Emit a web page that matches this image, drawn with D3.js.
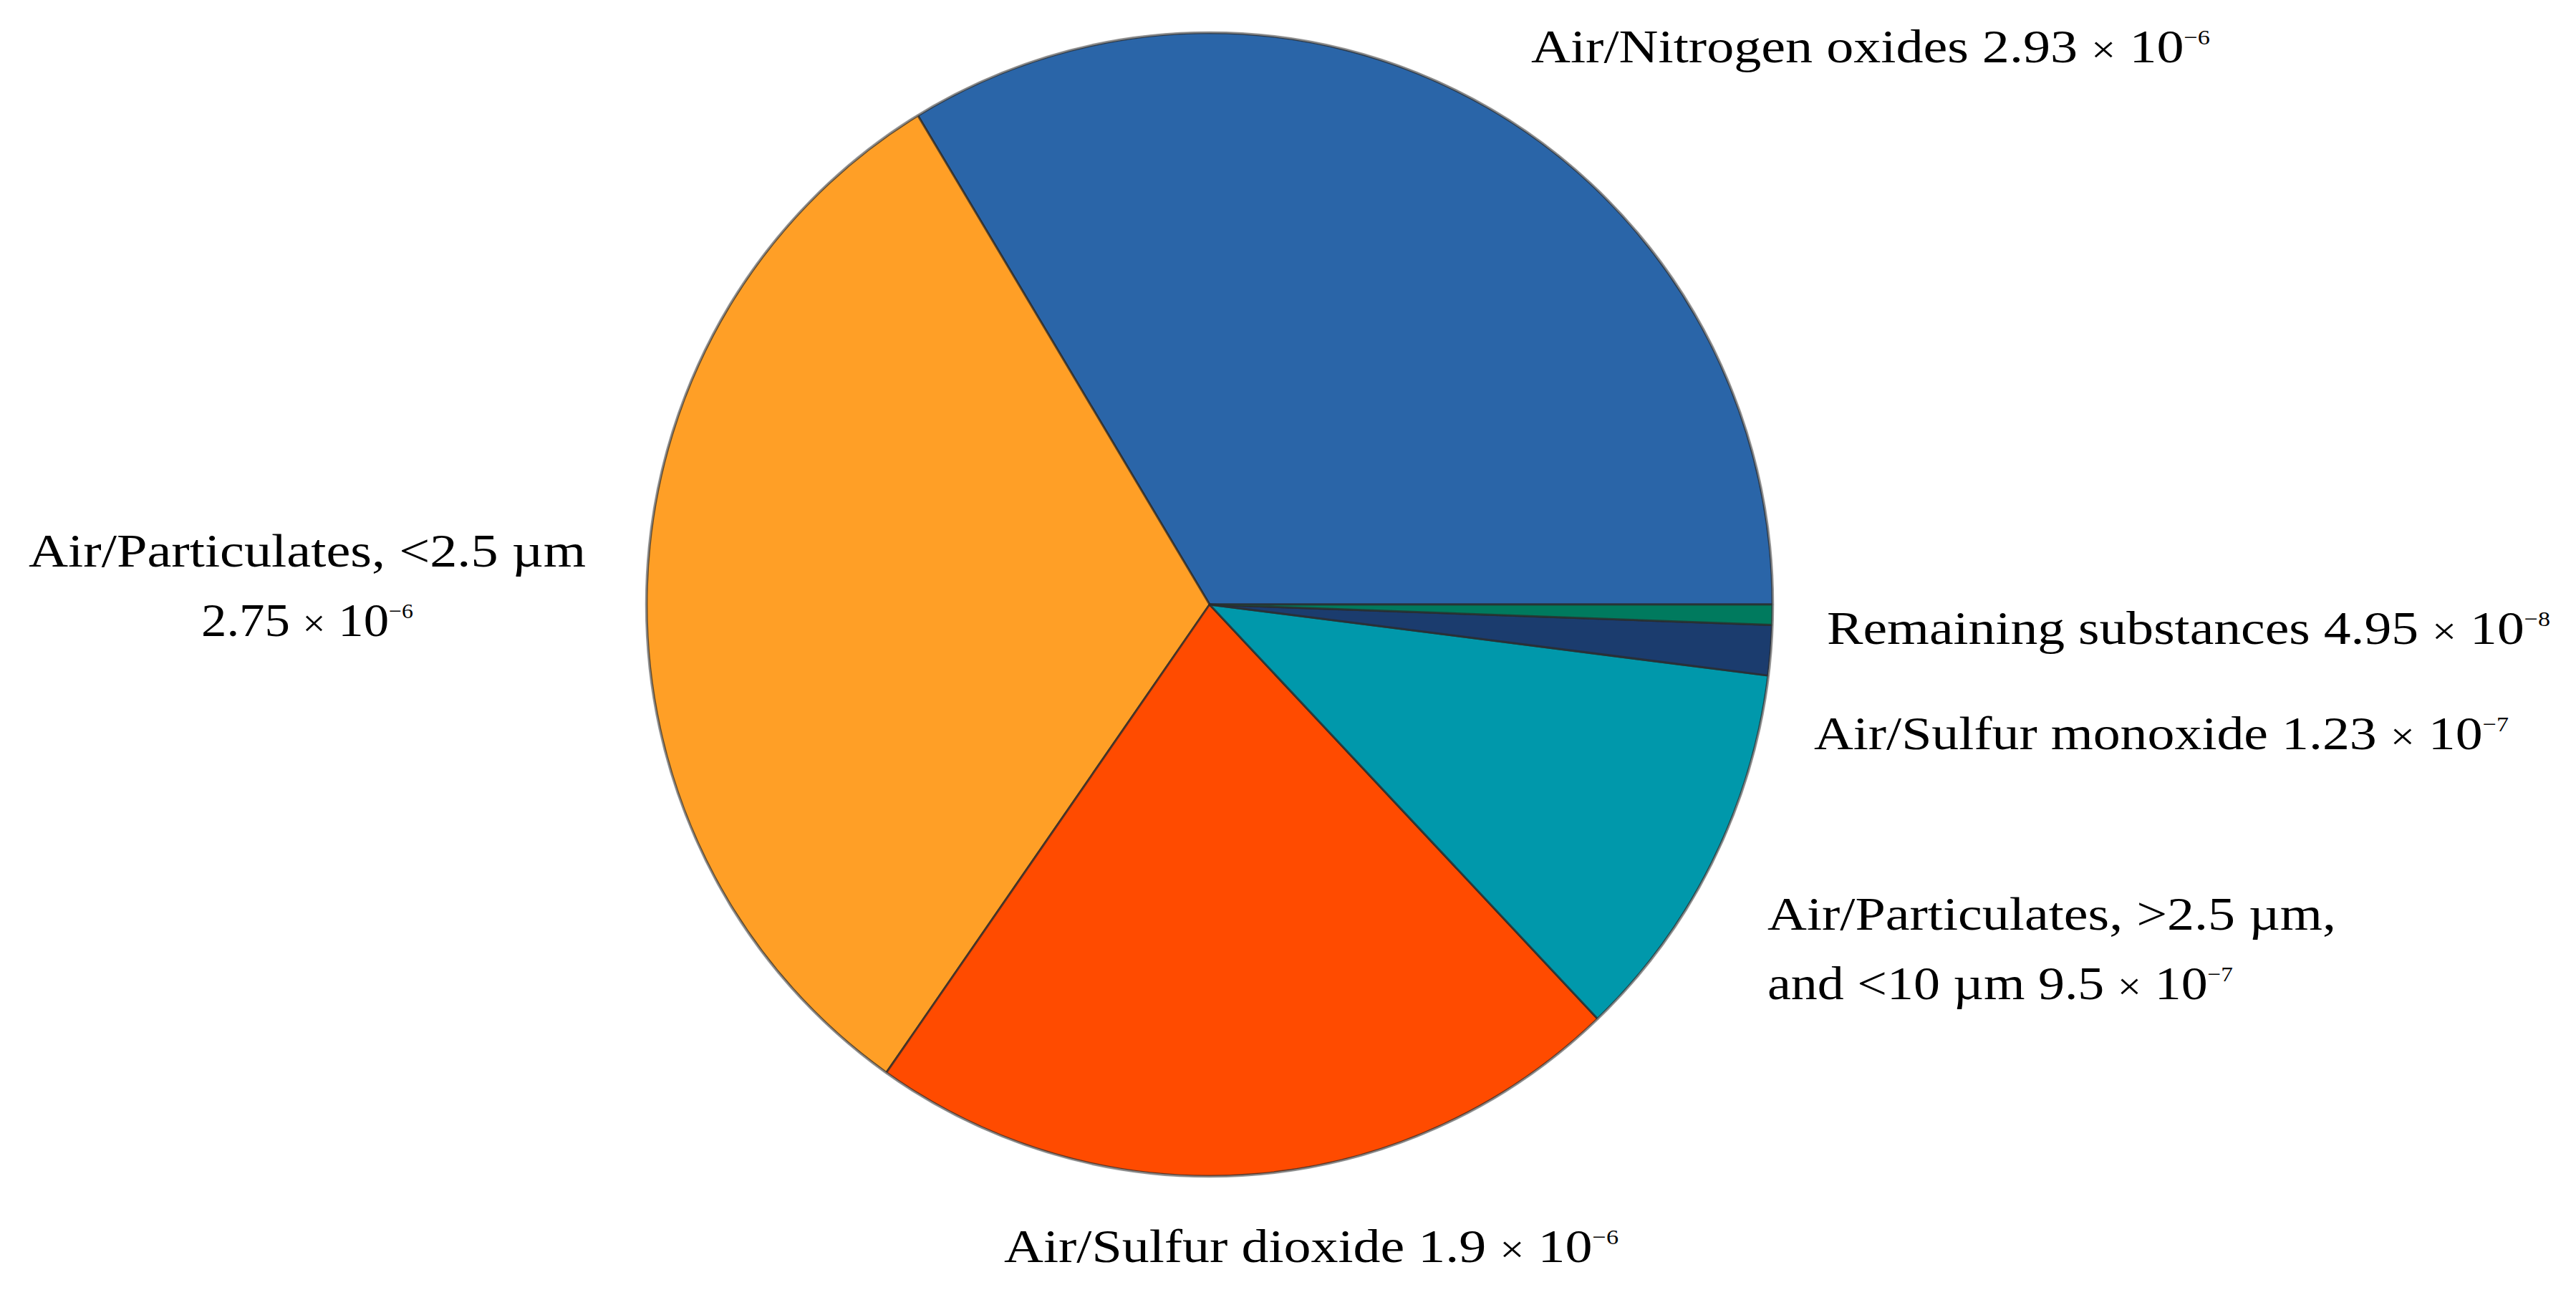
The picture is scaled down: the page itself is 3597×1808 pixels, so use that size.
<!DOCTYPE html>
<html>
<head>
<meta charset="utf-8">
<script src="https://cdn.jsdelivr.net/npm/d3@7"></script>
<style>
  html, body { margin: 0; padding: 0; background: #ffffff; }
  svg { display: block; }
</style>
</head>
<body>
<svg id="chart" width="3597" height="1808"></svg>
<script>
// ---- data ----
const categories = [
  "Air/Nitrogen oxides",
  "Air/Particulates, <2.5 µm",
  "Air/Sulfur dioxide",
  "Air/Particulates, >2.5 µm, and <10 µm",
  "Air/Sulfur monoxide",
  "Remaining substances"
];
const values = [2.93e-6, 2.75e-6, 1.9e-6, 9.5e-7, 1.23e-7, 4.95e-8];
const mantissas = ["2.93", "2.75", "1.9", "9.5", "1.23", "4.95"];
const exponents = ["-6", "-6", "-6", "-7", "-7", "-8"];
// label line text (the "× 10^exp" part is appended to the last line)
const labelLines = [
  ["Air/Nitrogen oxides "],
  ["Air/Particulates, <2.5 µm", ""],
  ["Air/Sulfur dioxide "],
  ["Air/Particulates, >2.5 µm,", "and <10 µm "],
  ["Air/Sulfur monoxide "],
  ["Remaining substances "]
];
const colors = ["#2a65a8", "#ff9f26", "#ff4b00", "#0098ab", "#1b3c6e", "#007a5e"];

// ---- layout (not data) ----
const W = 3597, H = 1808;
const cx = 1689, cy = 844, radius = 798, xSquash = 0.985;
const fontSize = 66, lineGap = 97;
const labelLayout = [
  { anchor: "start",  x: 2138, y: 87,   widths: [948] },
  { anchor: "middle", x: 429,  y: 791,  widths: [778, 296] },
  { anchor: "start",  x: 1402, y: 1762, widths: [858] },
  { anchor: "start",  x: 2468, y: 1298, widths: [794, 650] },
  { anchor: "start",  x: 2533, y: 1046, widths: [970] },
  { anchor: "start",  x: 2551, y: 899,  widths: [1010] }
];

const svg = d3.select("#chart");

const pie = d3.pie()
  .sort(null)
  .value(d => d)
  .startAngle(Math.PI / 2)
  .endAngle(Math.PI / 2 - 2 * Math.PI);

const arc = d3.arc().innerRadius(0).outerRadius(radius);

const g = svg.append("g")
  .attr("transform", `translate(${cx},${cy}) scale(${xSquash},1)`);

g.selectAll("path.slice")
  .data(pie(values))
  .join("path")
  .attr("class", "slice")
  .attr("d", arc)
  .attr("fill", (d, i) => colors[i])
  .attr("stroke", "#2b2b2b")
  .attr("stroke-opacity", 0.75)
  .attr("stroke-width", 3)
  .attr("stroke-linejoin", "round");

// outer grey rim
g.append("circle")
  .attr("r", radius + 1)
  .attr("fill", "none")
  .attr("stroke", "#8c8c8c")
  .attr("stroke-opacity", 0.8)
  .attr("stroke-width", 2.5);

// ---- labels ----
const fontFamily = "'Liberation Serif', 'Times New Roman', serif";
labelLines.forEach((lines, i) => {
  const L = labelLayout[i];
  lines.forEach((line, j) => {
    const isLast = j === lines.length - 1;
    const t = svg.append("text")
      .attr("x", L.x)
      .attr("y", L.y + j * lineGap)
      .attr("text-anchor", L.anchor)
      .attr("font-family", fontFamily)
      .attr("font-size", fontSize)
      .attr("fill", "#000");
    t.append("tspan").text(line);
    if (isLast) {
      t.append("tspan").text(mantissas[i] + " ");
      t.append("tspan").attr("font-size", fontSize * 0.8).text("×");
      t.append("tspan").text(" 10");
      t.append("tspan")
        .attr("font-size", fontSize * 0.45)
        .attr("dy", -fontSize * 0.38)
        .text(exponents[i].replace("-", "−"));
    }
    if (L.widths[j]) {
      t.attr("textLength", L.widths[j]).attr("lengthAdjust", "spacingAndGlyphs");
    }
  });
});
</script>
</body>
</html>
